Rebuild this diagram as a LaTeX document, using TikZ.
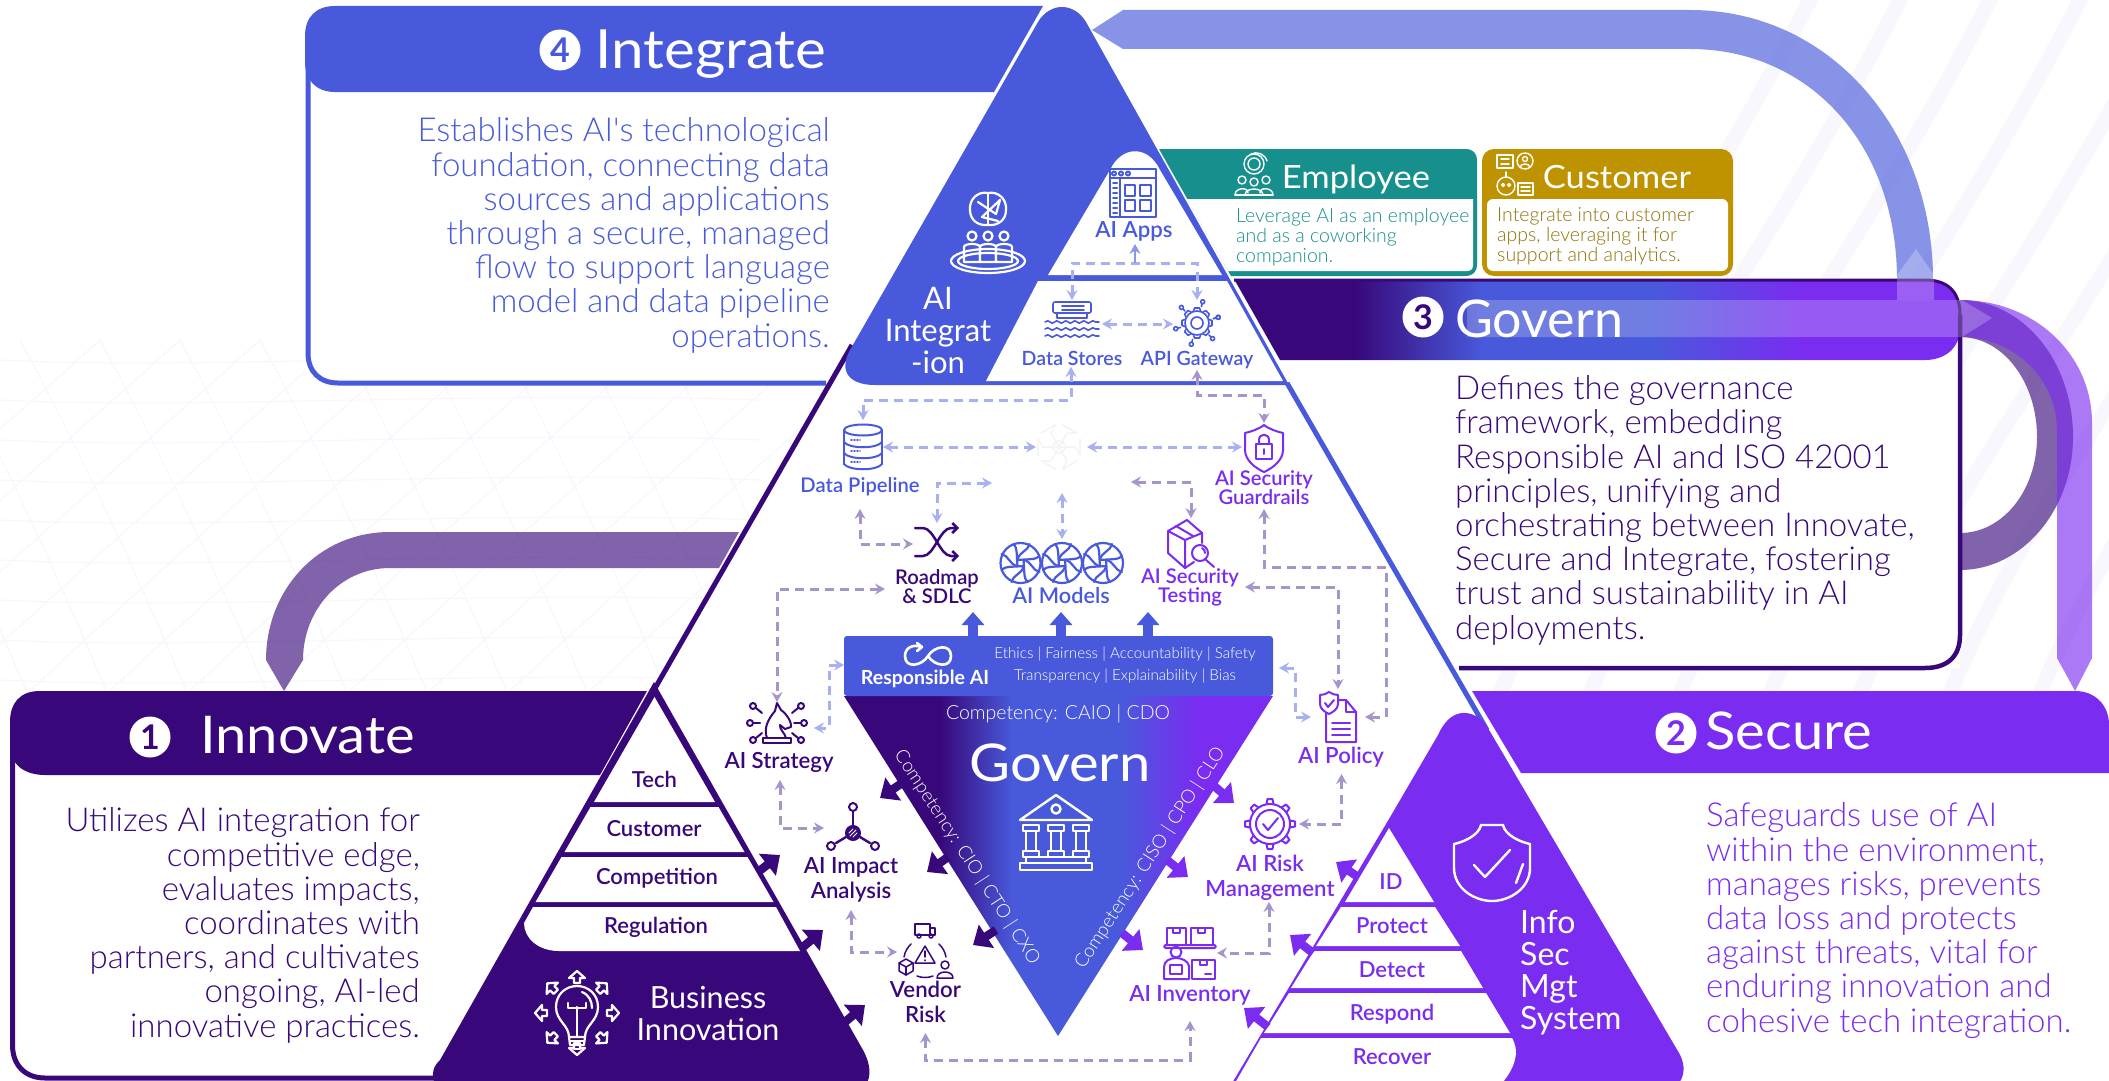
\documentclass[tikz,border=0pt]{standalone}
\usepackage{fontspec}
\setmainfont{Lato}
\newfontfamily\fL{Lato Light}
\newfontfamily\fM{Lato Semibold}
\newfontfamily\fT[FakeStretch=1.08]{Lato}
\usetikzlibrary{arrows.meta,decorations.pathmorphing}
\definecolor{cB}{HTML}{485ADB}
\definecolor{cD}{HTML}{38087A}
\definecolor{cP}{HTML}{7A2CF0}
\definecolor{cT}{HTML}{178F8C}
\definecolor{cG}{HTML}{BF9200}
\definecolor{cGt}{HTML}{8F7205}
\definecolor{pb}{HTML}{A7B0F0}
\definecolor{pg}{HTML}{A694CC}
\definecolor{stripe}{HTML}{F9F7FE}
\definecolor{mesh}{HTML}{F7F5FD}
\pgfdeclarehorizontalshading{govband}{100bp}{color(0bp)=(cD);color(33.3bp)=(cD);color(42.2bp)=(cB);color(53.6bp)=(cB);color(64bp)=(cP);color(100bp)=(cP)}
\pgfdeclarehorizontalshading{govtri}{100bp}{color(0bp)=(cD);color(36.2bp)=(cD);color(44.7bp)=(cB);color(57.2bp)=(cB);color(66.2bp)=(cP);color(100bp)=(cP)}
\newcommand\gearteeth[3]{\foreach \a in {0,45,...,315}{\draw[rotate=\a+#3] (-3.5,-#1) -- (-2.5,-#2) -- (2.5,-#2) -- (3.5,-#1);}}
\tikzset{
 >={Stealth[length=10pt,width=11pt,inset=3.5pt]},
 ic/.style={line width=2,line cap=round,line join=round},
 dashb/.style={draw=pb,line width=3,dash pattern=on 9pt off 6pt},
 dashg/.style={draw=pg,line width=3,dash pattern=on 9pt off 6pt},
 fat/.style={line width=8.5,-{Triangle[length=16pt,width=27pt]}},
 para/.style={inner sep=0,font=\fontsize{33}{34.2}\selectfont\fL},
 ttl/.style={inner sep=0,anchor=base,text=white,font=\fontsize{52}{52}\selectfont\fT},
 lab/.style={inner sep=0,anchor=base,align=center,font=\fontsize{20.2}{19}\selectfont\fM},
 labx/.style={inner sep=0,anchor=base,align=center,font=\fontsize{22.2}{25}\selectfont\fM},
 rowl/.style={inner sep=0,anchor=base,font=\fontsize{22}{24}\selectfont\fM},
 num/.style={circle,fill=white,minimum size=41pt,inner sep=0,font=\fontsize{34}{34}\selectfont\bfseries},
 pics/bankicon/.style={code={
  \draw (-36,-13) -- (0,-38) -- (36,-13) -- cycle;
  \draw (0,-24) circle (4.5);
  \foreach \x in {-25,0,25}{\draw (\x-8,-8) rectangle (\x+8,-2); \draw (\x-5,-2) -- (\x-5,18); \draw (\x+5,-2) -- (\x+5,18); \draw (\x-8,18) rectangle (\x+8,24);}
  \draw (-30,24) rectangle (30,30); \draw (-36,30) rectangle (36,37);}},
 pics/bulbicon/.style={code={
  \draw (-8,24) .. controls (-8,12) and (-21,8) .. (-21,-6) .. controls (-21,-19) and (-11,-27) .. (0,-27) .. controls (11,-27) and (21,-19) .. (21,-6) .. controls (21,8) and (8,12) .. (8,24) -- cycle;
  \draw (-8,24) -- (-7,32) -- (7,32) -- (8,24); \draw (-7,28) -- (7,28); \draw (-3,36) -- (3,36);
  \draw (0,24) -- (0,-6); \draw (-9,-10) -- (-9,-5) -- (9,-5) -- (9,-10);
  \draw (5,-21) .. controls (12,-18) and (15,-12) .. (15,-5);
  \foreach \a in {0,45,...,315}{\draw[rotate=\a] (30,-3) -- (35,-3) -- (35,-8) -- (42,0) -- (35,8) -- (35,3) -- (30,3) -- cycle;}}},
 pics/shieldicon/.style={code={
  \draw (-11,-38) -- (11,-38) .. controls (13,-28) and (28,-21) .. (38,-19) -- (38,5) .. controls (38,25) and (18,38) .. (0,38) .. controls (-18,38) and (-38,25) .. (-38,5) -- (-38,-19) .. controls (-28,-21) and (-13,-28) .. (-11,-38) -- cycle;
  \draw (-18,2) -- (-7,14) -- (18,-13); \draw (31,1) -- (24,20);}},
 pics/brainpeople/.style={code={
  \draw (0,-41) .. controls (-10,-43) and (-19,-35) .. (-18,-24) .. controls (-18,-14) and (-10,-8) .. (0,-9) .. controls (10,-8) and (18,-14) .. (18,-24) .. controls (19,-35) and (10,-43) .. (0,-41);
  \draw (0,-41) -- (0,-9); \draw (-10,-32) -- (8,-20) -- (12,-34) -- (-6,-17) -- (10,-13);
  \foreach \x in {-16,0,16}{\draw (\x,2) circle (4.5); \draw[fill=cB] (\x-8,28) -- (\x-8,13) .. controls (\x-8,9) and (\x+8,9) .. (\x+8,13) -- (\x+8,28) -- cycle;}
  \draw (0,27) ellipse (30 and 8); \draw (0,27) ellipse (37 and 12);}},
 pics/appsicon/.style={code={
  \draw (-23,-24) rectangle (23,24); \draw (-23,-15) -- (23,-15); \draw (-13,-15) -- (-13,24);
  \foreach \x in {-19,-12,-5}{\draw (\x,-19.5) circle (2);}
  \foreach \y in {-10,-5,0,5,10,15,20}{\draw (-20,\y) -- (-16,\y);}
  \draw (-8,-8) rectangle (2,3); \draw (7,-8) rectangle (18,3); \draw (-8,7) rectangle (2,18); \draw (7,7) rectangle (18,18);}},
 pics/storeicon/.style={code={
  \draw[rounded corners=2] (-19,-18) rectangle (19,-7); \draw (-10,-14) -- (12,-14); \draw (-10,-10) -- (12,-10);
  \draw (-15,-7) -- (-15,-2) -- (15,-2) -- (15,-7);
  \foreach \y in {2,9,16}{\draw[decorate,decoration={snake,amplitude=1.2,segment length=9}] (-27,\y) -- (27,\y);}}},
 pics/gwicon/.style={code={
  \draw (0,0) circle (12); \draw (0,0) circle (6); \gearteeth{12}{15}{0}
  \foreach \a in {15,75,...,375}{\draw[rotate=\a] (17,0) -- (20,0); \draw[rotate=\a] (22,0) circle (2);}}},
 pics/dbicon/.style={code={
  \draw (0,-17) ellipse (19 and 5.5); \draw (-19,-17) -- (-19,17); \draw (19,-17) -- (19,17);
  \foreach \y in {-5,6,17}{\draw (-19,\y) .. controls (-14,\y+7) and (14,\y+7) .. (19,\y);}
  \foreach \y in {-7,4,15}{\draw[line width=1.5,dash pattern=on 1pt off 2pt] (-12,\y) -- (-3,\y);}}},
 pics/hubicon/.style={code={
  \foreach \a in {0,60,...,300}{\draw[rotate=\a] (0,0) -- (16,0) -- (21,8); \draw[rotate=\a] (21,-8) -- (21,8);}
  \draw (0,0) circle (6);}},
 pics/lockshield/.style={code={
  \draw (0,-23) .. controls (-5,-19) and (-14,-16) .. (-19,-15) -- (-19,2) .. controls (-19,12) and (-9,20) .. (0,24) .. controls (9,20) and (19,12) .. (19,2) -- (19,-15) .. controls (14,-16) and (5,-19) .. (0,-23) -- cycle;
  \draw (-8,-4) rectangle (8,11); \draw (-5,-4) -- (-5,-8) .. controls (-5,-15) and (5,-15) .. (5,-8) -- (5,-4); \draw (0,1) -- (0,6);}},
 pics/shuffleicon/.style={code={
  \draw[-{Straight Barb[length=5pt,width=10pt]}] (-22,-14) -- (-14,-14) .. controls (-3,-14) and (3,14) .. (14,14) -- (22,14);
  \draw[-{Straight Barb[length=5pt,width=10pt]}] (-22,14) -- (-14,14) .. controls (-3,14) and (3,-14) .. (14,-14) -- (22,-14);}},
 pics/swirlicon/.style={code={
  \draw (0,0) circle (20);
  \foreach \a in {0,90,180,270}{\draw[rotate=\a] (-3,-3) .. controls (-2,-11) and (8,-12) .. (9,-19); \draw[rotate=\a] (-3,-3) .. controls (7,-4) and (16,-3) .. (19,-7);}}},
 pics/boxmag/.style={code={
  \draw (-2,-23) -- (-21,-12) -- (-21,10) -- (-4,25) -- (-4,-3) -- (-21,-12);
  \draw (-2,-23) -- (13,-10) -- (13,0); \draw (13,-10) -- (-4,-3); \draw (-13,-17) -- (4,-7); \draw (-4,25) -- (5,19);
  \draw[fill=white] (11,10) circle (8); \draw (16,16) -- (25,24); \draw (13,5) .. controls (15,6) and (16,8) .. (16,10);}},
 pics/infinityicon/.style={code={
  \draw (0,0) .. controls (6,-10) and (23,-13) .. (23,0) .. controls (23,13) and (6,10) .. (0,0) .. controls (-6,10) and (-23,13) .. (-23,0) .. controls (-23,-9) and (-14,-12) .. (-7,-9);
  \draw (-11,-13) -- (-6,-9) -- (-11,-5);}},
 pics/knighticon/.style={code={
  \draw (-14,15) rectangle (14,20);
  \draw (-10,15) .. controls (-14,5) and (-8,-5) .. (-2,-12) -- (0,-20) -- (4,-13) .. controls (10,-9) and (15,0) .. (14,4) -- (8,6) -- (3,2) .. controls (2,6) and (8,10) .. (9,15);
  \foreach \x/\y in {-27/0,27/0,-24/-17,24/-17,-24/17,24/17}{\draw (\x,\y) circle (3);}
  \draw (-24,0) -- (-17,0); \draw (24,0) -- (17,0); \draw (-21,-15) -- (-15,-10); \draw (21,-15) -- (15,-10); \draw (-21,15) -- (-15,10); \draw (21,15) -- (15,10);}},
 pics/trinode/.style={code={
  \draw[fill] (0,0) circle (7); \draw[white,line width=1] (-3,3) -- (3,-3); \draw[white,line width=1] (-4,0) -- (0,-4); \draw[white,line width=1] (0,4) -- (4,0);
  \draw (0,-26) circle (4); \draw (-22,13) circle (4); \draw (22,13) circle (4);
  \draw[line width=2.4] (0,-8) -- (0,-21); \draw[line width=2.4] (-7,4) -- (-17,10); \draw[line width=2.4] (7,4) -- (17,10);}},
 pics/vendoricon/.style={code={
  \draw (-14,-8) .. controls (-17,-5) and (-20,-1) .. (-21,5); \draw (14,-8) .. controls (17,-5) and (20,-1) .. (21,5); \draw (-8,24) .. controls (-3,26) and (3,26) .. (8,24);
  \draw (-10,11) -- (0,-6) -- (10,11) -- cycle; \draw (0,-1) -- (0,5); \draw (0,8) -- (0,8.5);
  \draw (-10,-28) rectangle (5,-17); \draw (5,-24) -- (10,-24) -- (10,-17) -- (5,-17); \draw (-6,-16) circle (2); \draw (6,-16) circle (2);
  \draw (-19,7) -- (-12,11) -- (-12,19) -- (-19,23) -- (-26,19) -- (-26,11) -- cycle; \draw (-26,11) -- (-19,15) -- (-12,11); \draw (-19,15) -- (-19,23);
  \draw (20,13) circle (4); \draw (12,26) .. controls (12,18) and (28,18) .. (28,26) -- cycle;}},
 pics/policyicon/.style={code={
  \draw (-12,-12) -- (-12,25) -- (18,25) -- (18,-5) -- (8,-17) -- (-1,-17); \draw (8,-17) -- (8,-5) -- (18,-5);
  \draw[fill=white] (-9,-25) .. controls (-12,-23) and (-15,-22) .. (-18,-22) -- (-18,-13) .. controls (-18,-8) and (-13,-5) .. (-9,-3) .. controls (-5,-5) and (0,-8) .. (0,-13) -- (0,-22) .. controls (-3,-22) and (-6,-23) .. (-9,-25) -- cycle;
  \draw (-13,-14) -- (-10,-10) -- (-4,-17);
  \draw (-6,6) -- (12,6); \draw (-6,12) -- (12,12); \draw (-6,18) -- (12,18);}},
 pics/gearcheck/.style={code={
  \draw (0,0) circle (20); \draw (0,0) circle (14); \gearteeth{20}{25}{0}
  \draw (-7,0) -- (-2,6) -- (8,-6);}},
 pics/inventoryicon/.style={code={
  \draw (-23,-25) rectangle (-4,-8); \draw (1,-25) rectangle (23,-8); \draw (-17,-25) -- (-17,-20) -- (-10,-20) -- (-10,-25); \draw (8,-25) -- (8,-20) -- (15,-20) -- (15,-25);
  \draw[rounded corners=1.5] (-26,-8) rectangle (26,-5);
  \draw (-14,-1) circle (5.5);
  \draw (-1,26) -- (-26,26) -- (-26,14) .. controls (-26,8) and (-20,5) .. (-14,5) .. controls (-8,5) and (-2,8) .. (-1,13) -- cycle;
  \draw (-20,12) rectangle (-8,21);
  \draw (2,7) rectangle (25,26); \draw (10,7) -- (10,12) -- (17,12) -- (17,7); \draw (15,21) -- (21,21);}},
 pics/empicon/.style={code={
  \draw (0,-11) circle (6); \draw (0,-11) circle (10);
  \draw (-3,-21) .. controls (3,-24) and (11,-21) .. (13,-14);
  \foreach \x/\y in {-12/5,12/5,0/7}{\draw (\x,\y) circle (4);}
  \draw (-19,20) .. controls (-19,12) and (-5,12) .. (-6,18); \draw (19,20) .. controls (19,12) and (5,12) .. (6,18);
  \draw (-9,20) .. controls (-9,12) and (9,12) .. (9,20) -- cycle; \draw (-19,20) -- (19,20);}},
 pics/custicon/.style={code={
  \draw (-18,-20) rectangle (-2,-7); \draw (-14,-16) -- (-6,-16); \draw (-14,-11) -- (-6,-11);
  \draw (10,-14) circle (8); \draw (10,-16) circle (2.5); \draw (5,-8) .. controls (6,-12) and (14,-12) .. (15,-8);
  \draw (-9,11) circle (9); \draw (-12,10) circle (1.5); \draw (-6,10) circle (1.5); \draw (-9,2) -- (-9,-3);
  \draw (3,8) rectangle (18,20); \draw (6,12) -- (15,12); \draw (6,16) -- (15,16);}}
}
\begin{document}
\begin{tikzpicture}[x=1pt,y=-1pt]
\useasboundingbox (0,0) rectangle (2109,1081);
\clip (0,0) rectangle (2109,1081);
\fill[white] (0,0) rectangle (2109,1081);
% background pattern
\foreach \x in {1400,1490,...,2300}{\draw[color=stripe,line width=15] (\x,720) .. controls (\x+80,500) and (\x+260,300) .. (\x+420,-20);}
\foreach \x in {-300,-220,...,700}{\draw[color=mesh,line width=1] (\x,340) .. controls (\x+60,450) and (\x+120,580) .. (\x+170,700); \draw[color=mesh,line width=1] (\x+400,340) .. controls (\x+300,430) and (\x+150,560) .. (\x,700);}
\foreach \y in {360,400,...,680}{\draw[color=mesh,line width=1] (0,\y) .. controls (200,\y+10) and (500,\y-10) .. (760,\y);}
% body backgrounds
\fill[white] (1062,-20) -- (1490,733) -- (1700,1081) -- (430,1081) -- (852,345) -- cycle;
\fill[white] (305,60) rectangle (860,383);
\fill[white] (1240,330) rectangle (1960,668);
\fill[white] (12,740) rectangle (600,1078);
\fill[white] (1510,760) rectangle (2109,1081);
% flow arrows
\fill[cD,fill opacity=.63] (739,532) -- (390,532) .. controls (318,532) and (266,590) .. (266,660) -- (284,691) -- (303,660) .. controls (303,610) and (340,568) .. (390,568) -- (719,568) -- cycle;
\fill[cD,fill opacity=.63] (1960,300) .. controls (2022,300) and (2073,360) .. (2073,437) .. controls (2073,510) and (2022,570) .. (1960,570) -- (1960,533) .. controls (2003,533) and (2037,490) .. (2037,437) .. controls (2037,382) and (2003,337) .. (1960,337) -- cycle;
\fill[cP,fill opacity=.63] (1960,300) .. controls (2035,300) and (2092,355) .. (2092,423) -- (2092,658) -- (2075,691) -- (2057,658) -- (2057,430) .. controls (2057,380) and (2015,337) .. (1960,337) -- cycle;
\fill[cB,fill opacity=.65] (1092,30) -- (1123,10) -- (1690,10) .. controls (1830,10) and (1933,130) .. (1933,280) -- (1897,280) .. controls (1897,145) and (1810,49) .. (1690,49) -- (1123,49) -- cycle;
% 4 Integrate box
\draw[cB,line width=5] (308,60) -- (308,353) .. controls (308,372) and (320,383) .. (338,383) -- (826,383);
\fill[cB] (1043,6) -- (335,6) .. controls (316,6) and (305,17) .. (305,36) -- (305,62) .. controls (305,80) and (316,92) .. (335,92) -- (994,92) -- cycle;
\node[num,text=cB] (n4) at (560,50) {4};
\node[ttl,font=\fontsize{54}{54}\selectfont\fT] (t4) at (711,68) {Integrate};
\node[para,text=cB,anchor=base east,align=right] (b4) at (830,347) {Establishes AI\char39 s technological\\foundation, connecting data\\sources and applications\\through a secure, managed\\flow to support language\\model and data pipeline\\operations.};
% central lines
\draw[cD,line width=5] (852,345) -- (654,690);
% AI integration
\fill[cB] (1038,22) .. controls (1050,2) and (1074,2) .. (1086,22) -- (1289,385) -- (875,385) .. controls (850,385) and (838,372) .. (850,350) -- cycle;
\fill[white] (1110,170) .. controls (1122,145) and (1148,145) .. (1160,170) -- (1222,275) -- (1048,275) -- cycle;
\fill[white] (1038,281) -- (1227,281) -- (1283,381) -- (986,381) -- cycle;
\draw[cB,line width=5] (1287,383) -- (1487,730);
\pic[color=white,ic,line width=2.2] at (988,234) {brainpeople};
\node[inner sep=0,anchor=base,align=center,text=white,font=\fontsize{31}{31.6}\selectfont] (aiint) at (938,373) {AI\\Integrat\\-ion};
\pic[color=cB,ic] at (1133,193) {appsicon};
\pic[color=cB,ic,line width=1.6] at (1072,320) {storeicon};
\pic[color=cB,ic,line width=1.6] at (1197,323) {gwicon};
\node[labx,text=cB] (apps) at (1134,237) {AI Apps};
\node[lab,text=cB,font=\fontsize{19.6}{19}\selectfont\fM] (stores) at (1072,365) {Data Stores};
\node[lab,text=cB,font=\fontsize{19.6}{19}\selectfont\fM] (gw) at (1197,365) {API Gateway};
% Employee / Customer
\fill[cT] (1159,149) -- (1465,149) .. controls (1473,149) and (1477,153) .. (1477,161) -- (1477,264) .. controls (1477,272) and (1473,276) .. (1465,276) -- (1231,276) -- cycle;
\fill[white] (1187,199) -- (1473,199) -- (1473,265) .. controls (1473,269) and (1471,271) .. (1467,271) -- (1228,271) -- cycle;
\pic[color=white,ic,line width=1.4] at (1254,175) {empicon};
\node[inner sep=0,anchor=base,text=white,font=\fontsize{32}{32}\selectfont\fT] (emp) at (1356,188) {Employee};
\node[inner sep=0,anchor=base west,align=left,text=cT,font=\fontsize{19.5}{20}\selectfont\fL] (empb) at (1236,262) {Leverage AI as an employee\\and as a coworking\\companion.};
\fill[cG,rounded corners=12] (1482,149) rectangle (1733,276);
\fill[white,rounded corners=6] (1487,199) rectangle (1728,271);
\pic[color=white,ic,line width=1.4] at (1515,175) {custicon};
\node[inner sep=0,anchor=base,text=white,font=\fontsize{32}{32}\selectfont\fT] (cust) at (1617,188) {Customer};
\node[inner sep=0,anchor=base west,align=left,text=cGt,font=\fontsize{19.5}{20}\selectfont\fL] (custb) at (1497,261) {Integrate into customer\\apps, leveraging it for\\support and analytics.};
% 3 Govern box
\shade[shading=govband] (1234,279) -- (1925,279) .. controls (1947,279) and (1960,292) .. (1960,312) -- (1960,328) .. controls (1960,348) and (1945,360) .. (1925,360) -- (1280,360) -- cycle;
\draw[cD,line width=3] (1234,280) -- (1925,280) .. controls (1948,280) and (1960,292) .. (1960,315);
\draw[cD,line width=4.5] (1960,315) -- (1960,635) .. controls (1960,656) and (1948,668) .. (1925,668) -- (1459,668);
\fill[white,fill opacity=.22] (1467,300) -- (1962,300) -- (1992,318) -- (1962,337) -- (1467,337) -- cycle;
\fill[white,fill opacity=.25] (1916,249) -- (1934,275) -- (1934,300) -- (1897,300) -- (1897,275) -- cycle;
\node[num,text=cD] (n3) at (1423,317) {3};
\node[ttl,anchor=base west,font=\fontsize{52}{52}\selectfont] (t3) at (1455,337) {Govern};
\node[para,text=cD,anchor=base west,align=left] (b3) at (1455,639) {Defines the governance\\framework, embedding\\Responsible AI and ISO 42001\\principles, unifying and\\orchestrating between Innovate,\\Secure and Integrate, fostering\\trust and sustainability in AI\\deployments.};
% 1 Innovate box
\draw[cD,line width=5] (12.5,740) -- (12.5,1045) .. controls (12.5,1065) and (25,1078) .. (45,1078) -- (440,1078);
\fill[cD] (647,691) -- (40,691) .. controls (20,691) and (10,703) .. (10,722) -- (10,745) .. controls (10,765) and (25,775) .. (45,775) -- (600,775) -- cycle;
\node[num,text=cD] (n1) at (150,737) {1};
\node[ttl,anchor=base west] (t1) at (200,753) {Innovate};
\node[para,text=cD,anchor=base east,align=right] (b1) at (420,1037) {Utilizes AI integration for\\competitive edge,\\evaluates impacts,\\coordinates with\\partners, and cultivates\\ongoing, AI-led\\innovative practices.};
% Business triangle
\fill[cD] (654,682) -- (863,1050) .. controls (875,1072) and (870,1090) .. (850,1095) -- (452,1095) .. controls (432,1090) and (427,1072) .. (440,1060) -- cycle;
\fill[white] (654.5,697) -- (715,802) -- (594,802) -- cycle;
\fill[white] (590.5,807) -- (718.5,807) -- (744.5,852) -- (564.5,852) -- cycle;
\fill[white] (561.5,857) -- (747.5,857) -- (773.5,902) -- (535.5,902) -- cycle;
\fill[white] (533,907) -- (776,907) -- (800,951) -- (559,951) .. controls (538,951) and (524,938) .. (524,923) -- cycle;
\node[rowl,text=cD] (tech) at (654.5,787) {Tech};
\node[rowl,text=cD] (custr) at (654,836) {Customer};
\node[rowl,text=cD] (comp) at (657,884) {Competition};
\node[rowl,text=cD] (reg) at (656,933) {Regulation};
\pic[color=white,ic,line width=2.2] at (577,1013) {bulbicon};
\node[inner sep=0,anchor=base,align=center,text=white,font=\fontsize{30.5}{32}\selectfont] (binn) at (708,1040) {Business\\Innovation};
% 2 Secure
\fill[cP] (1472,691) -- (2075,691) .. controls (2095,691) and (2109,705) .. (2109,725) -- (2109,773) -- (1521,773) -- cycle;
\node[num,text=cP] (n2) at (1676,733) {2};
\node[ttl,anchor=base west] (t2) at (1705,749) {Secure};
\node[para,text=cP,anchor=base west,align=left] (b2) at (1706,1032) {Safeguards use of AI\\within the environment,\\manages risks, prevents\\data loss and protects\\against threats, vital for\\enduring innovation and\\cohesive tech integration.};
% Info Sec triangle
\fill[cP] (1389,819) -- (1438,735) .. controls (1450,708) and (1470,708) .. (1485,723) -- (1679,1053) .. controls (1690,1072) and (1680,1090) .. (1661,1095) -- (1225,1095) -- cycle;
\fill[white] (1389,828) -- (1434,902) -- (1345,902) -- cycle;
\fill[white] (1341,907) -- (1435,907) -- (1460,946) -- (1316,946) -- cycle;
\fill[white] (1314,951) -- (1461,951) -- (1483,988) -- (1291,988) -- cycle;
\fill[white] (1289,993) -- (1486,993) -- (1510,1033) -- (1264,1033) -- cycle;
\fill[white] (1261,1038) -- (1512,1038) .. controls (1518,1048) and (1520,1065) .. (1496,1090) -- (1231,1090) -- cycle;
\node[rowl,text=cP] (id) at (1391,889) {ID};
\node[rowl,text=cP] (prot) at (1392,933) {Protect};
\node[rowl,text=cP] (det) at (1392,977) {Detect};
\node[rowl,text=cP] (resp) at (1392,1020) {Respond};
\node[rowl,text=cP] (rec) at (1392,1064) {Recover};
\pic[color=white,ic,line width=2.4] at (1492,863) {shieldicon};
\node[inner sep=0,anchor=base west,align=left,text=white,font=\fontsize{32}{32}\selectfont] (isms) at (1520,1029) {Info\\Sec\\Mgt\\System};
% Govern triangle
\shade[shading=govtri] (844,696) -- (1273,696) -- (1058,1036) -- cycle;
\fill[cB,rounded corners=3] (844,636) rectangle (1273,696);
\pic[color=white,ic,line width=2.6] at (928,656) {infinityicon};
\node[inner sep=0,anchor=base,text=white,font=\fontsize{19.5}{20}\selectfont\bfseries] (rai) at (925,684) {Responsible AI};
\node[inner sep=0,anchor=base,text=white,font=\fontsize{15.2}{16}\selectfont\fL] (eth) at (1125,658) {Ethics | Fairness | Accountability | Safety};
\node[inner sep=0,anchor=base,text=white,font=\fontsize{15.2}{16}\selectfont\fL] (tra) at (1125,680) {Transparency | Explainability | Bias};
\node[inner sep=0,anchor=base,text=white,font=\fontsize{19.5}{20}\selectfont\fL] (caio) at (1058,719) {Competency: CAIO | CDO};
\node[ttl] (govm) at (1060,781) {Govern};
\pic[color=white,ic,line width=2.4] at (1056,833) {bankicon};
\node[inner sep=0,text=white,rotate=-57,font=\fontsize{18.7}{20}\selectfont\fL] (cio) at (967,857) {Competency: CIO | CTO | CXO};
\node[inner sep=0,text=white,rotate=57,font=\fontsize{18.7}{20}\selectfont\fL] (ciso) at (1150,858) {Competency: CISO | CPO | CLO};
% icons and labels inside the triangle
\pic[color=cB,ic] at (863,447) {dbicon};
\node[lab,text=cB] (pipe) at (860,492) {Data Pipeline};
\pic[color=stripe!70!gray!25,ic,line width=1.5] at (1059,447) {hubicon};
\coordinate (hub) at (1059,447);
\pic[color=cP,ic] at (1264,448) {lockshield};
\node[lab,text=cP] (guard) at (1264,504) {AI Security\\Guardrails};
\pic[color=cD,ic,line width=2.5] at (937,542) {shuffleicon};
\node[lab,text=cD] (road) at (937,603) {Roadmap\\\& SDLC};
\foreach \x in {1020.5,1062,1103}{\pic[color=cB,ic,line width=2.2] at (\x,563) {swirlicon};}
\node[labx,text=cB,font=\fontsize{21.7}{25}\selectfont\fM] (models) at (1061,603) {AI Models};
\pic[color=cP,ic] at (1189,543) {boxmag};
\node[lab,text=cP] (test) at (1190,602) {AI Security\\Testing};
\pic[color=cD,ic] at (777,723) {knighticon};
\node[labx,text=cD] (strat) at (779,768) {AI Strategy};
\pic[color=cD,ic] at (853,833) {trinode};
\node[labx,text=cD] (impact) at (851,898) {AI Impact\\Analysis};
\pic[color=cD,ic,line width=1.5] at (925,952) {vendoricon};
\node[labx,text=cD] (vendor) at (925.5,1022) {Vendor\\Risk};
\pic[color=cP,ic] at (1338,717) {policyicon};
\node[labx,text=cP] (policy) at (1341,763) {AI Policy};
\pic[color=cP,ic] at (1270,824) {gearcheck};
\node[labx,text=cP] (risk) at (1270,896) {AI Risk\\Management};
\pic[color=cP,ic] at (1190,953) {inventoryicon};
\node[labx,text=cP] (inv) at (1190,1001) {AI Inventory};
% connector ends
\coordinate (a1) at (1072,300); \coordinate (a2) at (1072,263); \coordinate (a3) at (1197,263); \coordinate (a4) at (1197,300);
\coordinate (b1) at (1135,263); \coordinate (b2) at (1135,244);
\coordinate (c1) at (1102,324); \coordinate (c2) at (1173,324);
\coordinate (d1) at (1071,367); \coordinate (d2) at (1071,400); \coordinate (d3) at (863,400); \coordinate (d4) at (863,420);
\coordinate (e1) at (1197,370); \coordinate (e2) at (1197,395); \coordinate (e3) at (1264,395); \coordinate (e4) at (1264,423);
\coordinate (f1) at (883,447); \coordinate (f2) at (1036,447); \coordinate (f3) at (1087,447); \coordinate (f4) at (1242,447);
\coordinate (g1) at (992,483); \coordinate (g2) at (937,483); \coordinate (g3) at (937,523);
\coordinate (h1) at (860,509); \coordinate (h2) at (860,544); \coordinate (h3) at (913,544);
\coordinate (i1) at (1062,493); \coordinate (i2) at (1062,539);
\coordinate (j1) at (1131,482); \coordinate (j2) at (1191,482); \coordinate (j3) at (1191,518);
\coordinate (k1) at (1245,587); \coordinate (k2) at (1338,587); \coordinate (k3) at (1338,689);
\coordinate (l1) at (1264,509); \coordinate (l2) at (1264,567); \coordinate (l3) at (1386,567); \coordinate (l4) at (1386,717); \coordinate (l5) at (1365,717);
\coordinate (m1) at (885,589); \coordinate (m2) at (777,589); \coordinate (m3) at (777,702);
\coordinate (n5) at (844,665); \coordinate (n6) at (829,665); \coordinate (n7) at (829,728); \coordinate (n8) at (814,728);
\coordinate (o1) at (1279,668); \coordinate (o2) at (1295,668); \coordinate (o3) at (1295,717); \coordinate (o4) at (1311,717);
\coordinate (p1) at (780,780); \coordinate (p2) at (780,828); \coordinate (p3) at (824,828);
\coordinate (q1) at (851,910); \coordinate (q2) at (851,952); \coordinate (q3) at (897,952);
\coordinate (r1) at (925.5,1033); \coordinate (r2) at (925.5,1060); \coordinate (r3) at (1190,1060); \coordinate (r4) at (1190,1021);
\coordinate (s1) at (1269,902); \coordinate (s2) at (1269,953); \coordinate (s3) at (1217,953);
\coordinate (t5) at (1341.5,774); \coordinate (t6) at (1341.5,824); \coordinate (t7) at (1299,824);
% connectors
\draw[dashb,<->] (a1) -- (a2) -- (a3) -- (a4);
\draw[pb!70!cB,line width=2.2,->] (b1) -- (b2);
\draw[dashb,<->] (c1) -- (c2);
\draw[dashb,<->] (d1) -- (d2) -- (d3) -- (d4);
\draw[dashg,<->] (e1) -- (e2) -- (e3) -- (e4);
\draw[dashb,<->] (f1) -- (f2);
\draw[dashb,<->] (f3) -- (f4);
\draw[dashb,<->] (g1) -- (g2) -- (g3);
\draw[dashg,<->] (h1) -- (h2) -- (h3);
\draw[dashb,<->] (i1) -- (i2);
\draw[dashg,<->] (j1) -- (j2) -- (j3);
\draw[dashg,<->] (k1) -- (k2) -- (k3);
\draw[dashg,<->] (l1) -- (l2) -- (l3) -- (l4) -- (l5);
\draw[dashg,<->] (m1) -- (m2) -- (m3);
\draw[dashb,<->] (n5) -- (n6) -- (n7) -- (n8);
\draw[dashb,<->] (o1) -- (o2) -- (o3) -- (o4);
\draw[dashg,<->] (p1) -- (p2) -- (p3);
\draw[dashg,<->] (q1) -- (q2) -- (q3);
\draw[dashg,<->] (r1) -- (r2) -- (r3) -- (r4);
\draw[dashg,<->] (s1) -- (s2) -- (s3);
\draw[dashg,<->] (t5) -- (t6) -- (t7);
% thick arrows
\foreach \x in {973,1061,1148}{\draw[cB,line width=10,-{Triangle[length=13pt,width=22pt]}] (\x,637) -- (\x,612);}
\coordinate (u1) at (902,783); \coordinate (u2) at (880,798); \coordinate (u3) at (948,857); \coordinate (u4) at (927,872); \coordinate (u5) at (996,930); \coordinate (u6) at (973,945);
\draw[cD,fat] (u1) -- (u2); \draw[cD,fat] (u3) -- (u4); \draw[cD,fat] (u5) -- (u6);
\coordinate (v1) at (1213,785); \coordinate (v2) at (1234,803); \coordinate (v3) at (1167,860); \coordinate (v4) at (1188,877); \coordinate (v5) at (1122,933); \coordinate (v6) at (1143,950);
\draw[cP,fat] (v1) -- (v2); \draw[cP,fat] (v3) -- (v4); \draw[cP,fat] (v5) -- (v6);
\coordinate (w1) at (758,872); \coordinate (w2) at (780,855); \coordinate (w3) at (803,947); \coordinate (w4) at (823,930); \coordinate (w5) at (845,1022); \coordinate (w6) at (865,1005);
\draw[cD,fat] (w1) -- (w2); \draw[cD,fat] (w3) -- (w4); \draw[cD,fat] (w5) -- (w6);
\coordinate (y1) at (1358,877); \coordinate (y2) at (1336,862); \coordinate (y3) at (1313,953); \coordinate (y4) at (1290,935); \coordinate (y5) at (1268,1027); \coordinate (y6) at (1244,1008);
\draw[cP,fat] (y1) -- (y2); \draw[cP,fat] (y3) -- (y4); \draw[cP,fat] (y5) -- (y6);
\end{tikzpicture}
\end{document}
